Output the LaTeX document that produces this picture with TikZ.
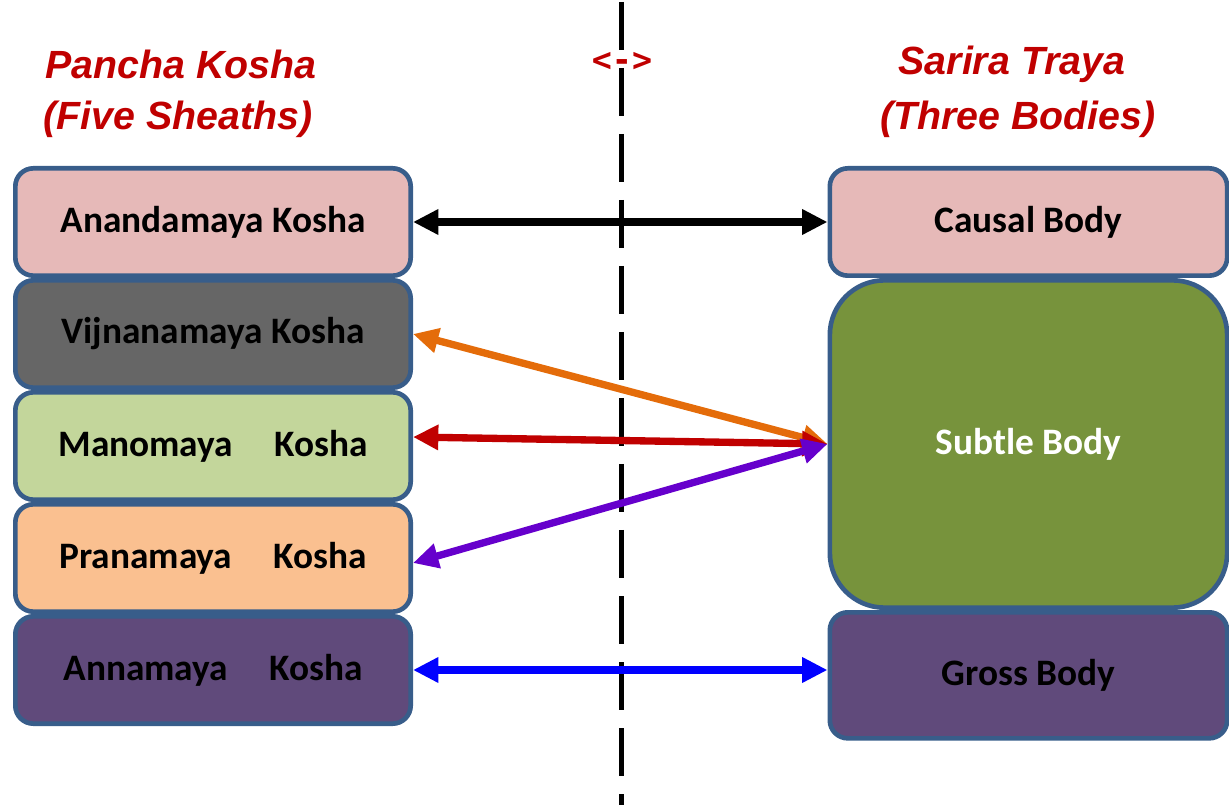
\documentclass[tikz,border=0pt]{standalone}
\usepackage{fontspec}
\setmainfont{Carlito}
\newfontfamily\headfont{Liberation Sans}
\newfontfamily\signfont{DejaVu Sans Mono}
\usepackage{xcolor}
\usetikzlibrary{arrows.meta,positioning,calc}

\definecolor{boxblue}{HTML}{385D8A}
\definecolor{anandapink}{HTML}{E6B9B8}
\definecolor{vijgray}{HTML}{666666}
\definecolor{manogreen}{HTML}{C3D69B}
\definecolor{pranapeach}{HTML}{FAC090}
\definecolor{annapurple}{HTML}{604A7B}
\definecolor{subtlegreen}{HTML}{77933C}
\definecolor{headred}{HTML}{C00000}
\definecolor{arrorange}{HTML}{E46C0A}
\definecolor{arrred}{HTML}{C00000}
\definecolor{arrpurple}{HTML}{6600CC}
\definecolor{arrblue}{HTML}{0000FF}

\tikzset{
	kosha/.style={draw=boxblue,line width=3.5pt,rounded corners=13.5pt,minimum width=296.5pt,
		minimum height=80.5pt,text=black,font=\bfseries\fontsize{28}{32}\selectfont},
	heading/.style={text=headred,font=\headfont\bfseries\itshape\fontsize{29.5}{34}\selectfont},
	link/.style={line width=5.5pt,{Triangle[length=19pt,width=18pt]}-{Triangle[length=19pt,width=18pt]}}
}

\begin{document}
\begin{tikzpicture}[x=0.75pt,y=-0.75pt,node distance=0pt]
			
			\useasboundingbox (0,0) rectangle (1229,805);
			
			% divider
			\coordinate (top) at (621,2);
			\coordinate (bot) at (621,805);
			\draw[line width=3.75pt,dash pattern=on 36pt off 13.5pt] (top) -- (bot);
			\node[text=headred,font=\signfont\bfseries\fontsize{25}{28}\selectfont] (sign) at (622,62) {<->};
			
			% headings
			\node[heading] (PK1) at (181,64) {Pancha Kosha};
			\node[heading] (PK2) at (178,119) {(Five Sheaths)};
			\node[heading] (ST1) at (1012,64) {Sarira Traya};
			\node[heading] (ST2) at (1018,119) {(Three Bodies)};
			
			% five sheaths
			\node[kosha, fill=anandapink]    (AK) at (213,222)      {Anandamaya Kosha};
			\node[kosha, fill=vijgray]       (VK)[below=of AK]      {Vijnanamaya Kosha};
			\node[kosha, fill=manogreen]     (MK)[below=of VK]      {Manomaya\hspace{1.1em}Kosha};
			\node[kosha, fill=pranapeach]    (PK)[below=of MK]      {Pranamaya\hspace{1.1em}Kosha};
			\node[kosha, fill=annapurple]    (NK)[below=of PK]      {Annamaya\hspace{1.1em}Kosha};
			
			% three bodies
			\node[kosha, fill=anandapink, minimum width=298pt]    (CB) at (1028.5,222)   {Causal Body};
			\node[kosha, fill=subtlegreen, text=white, minimum width=298pt, minimum height=245.5pt,
			rounded corners=41pt]    (SB)[below=of CB]      {Subtle Body};
			\node[kosha, fill=annapurple, minimum width=298pt, minimum height=94.5pt]    (GB)[below=of SB]      {Gross Body};
			
			% links
			\draw[link, draw=black] (AK) -- (CB);
			\draw[link, draw=arrorange] (SB.west) -- (VK.east);
			\draw[link, draw=arrred] (SB.west) -- ([yshift=6.75pt]MK.east);
			\draw[link, draw=arrpurple] (SB.west) -- ([yshift=-3.75pt]PK.east);
			\draw[link, draw=arrblue] (NK) -- (NK -| GB.west);
			\end{tikzpicture}
\end{document}
